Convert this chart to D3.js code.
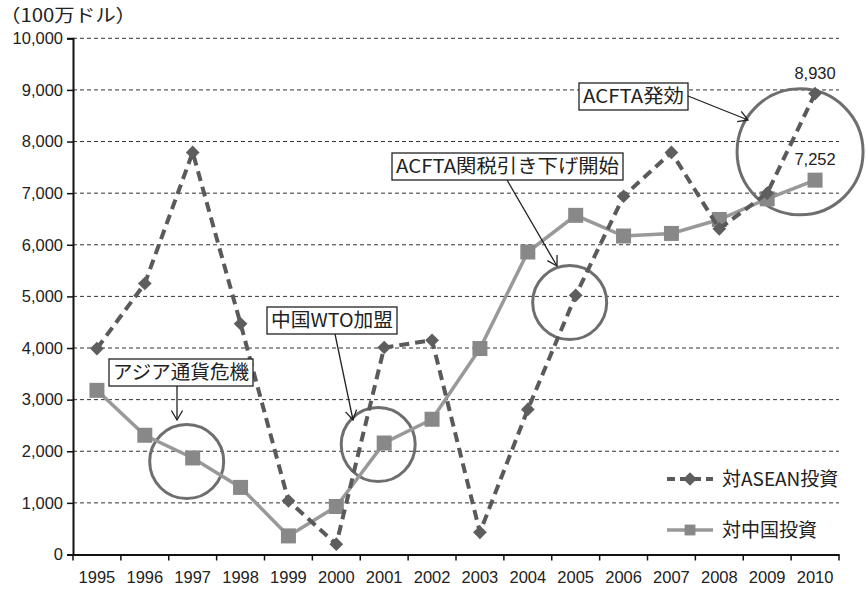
<!DOCTYPE html>
<html>
<head>
<meta charset="utf-8">
<script src="https://cdn.jsdelivr.net/npm/d3@7"></script>
<style>
  body { margin: 0; background: #fff; }
  text { font-family: "Noto Sans CJK JP", "Liberation Sans", sans-serif; fill: #222; }
</style>
</head>
<body>
<div id="chart"></div>
<script>
var years = ["1995","1996","1997","1998","1999","2000","2001","2002","2003","2004","2005","2006","2007","2008","2009","2010"];
var aseanValues = [3990, 5250, 7790, 4470, 1040, 200, 4010, 4150, 430, 2810, 5020, 6940, 7790, 6310, 7000, 8930];
var chinaValues = [3180, 2310, 1870, 1300, 360, 930, 2160, 2620, 3990, 5860, 6570, 6170, 6220, 6490, 6890, 7252];
var yTicks = [0, 1000, 2000, 3000, 4000, 5000, 6000, 7000, 8000, 9000, 10000];
var seriesNames = ["対ASEAN投資", "対中国投資"];
var unitLabel = "（100万ドル）";

// annotation: text, year it points at, value at circle centre, circle radius
var notes = [
  { text: "アジア通貨危機", year: "1997", value: 1800, r: 37, box: [109, 359, 144], tip: [177, 420] },
  { text: "中国WTO加盟", year: "2001", value: 2130, r: 37, box: [267, 307, 130], tip: [353, 420] },
  { text: "ACFTA関税引き下げ開始", year: "2005", value: 4880, r: 37, box: [392, 153, 231], tip: [557, 266] },
  { text: "ACFTA発効", year: "2010", value: 7800, r: 63, box: [579, 83, 109], tip: [748, 120] }
];

var svgWidth = 866;
var svgHeight = 590;
var plotLeft = 73, plotRight = 839, plotTop = 38.3, plotBottom = 554.5;

var svg = d3.select("#chart")
  .append("svg")
  .attr("width", svgWidth)
  .attr("height", svgHeight);

var xScale = d3.scaleBand()
  .domain(years)
  .range([plotLeft, plotRight])
  .padding(0);

var yScale = d3.scaleLinear()
  .domain([0, 10000])
  .range([plotBottom, plotTop]);

var cx = d => xScale(d) + xScale.bandwidth() / 2;

// gridlines
svg.append("g")
  .selectAll("line")
  .data(yTicks.filter(d => d > 0))
  .enter()
  .append("line")
  .attr("x1", plotLeft)
  .attr("x2", plotRight)
  .attr("y1", d => yScale(d))
  .attr("y2", d => yScale(d))
  .attr("stroke", "#333")
  .attr("stroke-width", 1)
  .attr("stroke-dasharray", "4,3");

// y axis
var yAxis = d3.axisLeft(yScale)
  .tickValues(yTicks)
  .tickSize(6)
  .tickFormat(d3.format(","));

var yG = svg.append("g")
  .attr("transform", `translate(${plotLeft},0)`)
  .call(yAxis);
yG.select(".domain").attr("stroke", "#111").attr("stroke-width", 2);
yG.selectAll(".tick line").attr("stroke", "#111").attr("stroke-width", 1.5);
yG.selectAll(".tick text")
  .attr("x", -10)
  .attr("font-size", 16.5)
  .style("font-family", "'Liberation Sans', sans-serif")
  .attr("fill", "#1a1a1a");

// x axis
var xAxis = d3.axisBottom(xScale).tickSize(0);
var xG = svg.append("g")
  .attr("transform", `translate(0,${plotBottom})`)
  .call(xAxis);
xG.select(".domain").attr("stroke", "#111").attr("stroke-width", 2);
xG.selectAll(".tick text")
  .attr("y", 17)
  .attr("font-size", 16.5)
  .style("font-family", "'Liberation Sans', sans-serif")
  .attr("fill", "#1a1a1a");

// boundary ticks between categories
svg.append("g")
  .selectAll("line")
  .data(years.concat(["end"]))
  .enter()
  .append("line")
  .attr("x1", (d, i) => plotLeft + i * xScale.bandwidth())
  .attr("x2", (d, i) => plotLeft + i * xScale.bandwidth())
  .attr("y1", plotBottom)
  .attr("y2", plotBottom + 6)
  .attr("stroke", "#111")
  .attr("stroke-width", 1.5);

// annotation circles
svg.append("g")
  .selectAll("circle")
  .data(notes)
  .enter()
  .append("circle")
  .attr("cx", d => cx(d.year) - (d.year === "2010" ? 15 : 6))
  .attr("cy", d => yScale(d.value))
  .attr("r", d => d.r)
  .attr("fill", "none")
  .attr("stroke", "#6e6e6e")
  .attr("stroke-width", 3);

// china line
var valueLine = d3.line()
  .x((d, i) => cx(years[i]))
  .y(d => yScale(d));

svg.append("path")
  .datum(chinaValues)
  .attr("d", valueLine)
  .attr("fill", "none")
  .attr("stroke", "#999")
  .attr("stroke-width", 3.5);

svg.append("g")
  .selectAll("rect")
  .data(chinaValues)
  .enter()
  .append("rect")
  .attr("x", (d, i) => cx(years[i]) - 7.5)
  .attr("y", d => yScale(d) - 7.5)
  .attr("width", 15)
  .attr("height", 15)
  .attr("fill", "#888");

// asean line
svg.append("path")
  .datum(aseanValues)
  .attr("d", valueLine)
  .attr("fill", "none")
  .attr("stroke", "#5a5a5a")
  .attr("stroke-width", 4)
  .attr("stroke-dasharray", "10,6");

var diamond = d3.symbol().type(d3.symbolDiamond2).size(120);
svg.append("g")
  .selectAll("path")
  .data(aseanValues)
  .enter()
  .append("path")
  .attr("d", diamond)
  .attr("transform", (d, i) => `translate(${cx(years[i])},${yScale(d)})`)
  .attr("fill", "#5e5e5e");

// value labels for last year
svg.append("text")
  .attr("x", cx("2010"))
  .attr("y", yScale(aseanValues[15]) - 15)
  .attr("text-anchor", "middle")
  .attr("font-size", 16.5)
  .style("font-family", "'Liberation Sans', sans-serif")
  .text(d3.format(",")(aseanValues[15]));

svg.append("text")
  .attr("x", cx("2010"))
  .attr("y", yScale(chinaValues[15]) - 15)
  .attr("text-anchor", "middle")
  .attr("font-size", 16.5)
  .style("font-family", "'Liberation Sans', sans-serif")
  .text(d3.format(",")(chinaValues[15]));

// annotation boxes and arrows
var noteG = svg.append("g").selectAll("g").data(notes).enter().append("g");

noteG.append("rect")
  .attr("x", d => d.box[0])
  .attr("y", d => d.box[1])
  .attr("width", d => d.box[2])
  .attr("height", 27)
  .attr("fill", "#fff")
  .attr("stroke", "#222")
  .attr("stroke-width", 1.3);

noteG.append("text")
  .attr("x", d => d.box[0] + d.box[2] / 2)
  .attr("y", d => d.box[1] + 20)
  .attr("text-anchor", "middle")
  .attr("font-size", 19)
  .attr("textLength", d => d.box[2] - 8)
  .attr("lengthAdjust", "spacingAndGlyphs")
  .text(d => d.text);

function arrowStart(d) {
  if (d.year === "2010") return [d.box[0] + d.box[2], d.box[1] + 13];
  if (d.year === "1997") return [d.tip[0], d.box[1] + 27];
  if (d.year === "2001") return [d.box[0] + 68, d.box[1] + 27];
  return [d.box[0] + 115, d.box[1] + 27];
}

noteG.each(function(d) {
  var s = arrowStart(d), t = d.tip;
  var g = d3.select(this);
  g.append("line")
    .attr("x1", s[0]).attr("y1", s[1])
    .attr("x2", t[0]).attr("y2", t[1])
    .attr("stroke", "#222")
    .attr("stroke-width", 1.3);
  var ang = Math.atan2(t[1] - s[1], t[0] - s[0]);
  var head = [ang + Math.PI * 0.83, ang - Math.PI * 0.83].map(a => [t[0] + 11 * Math.cos(a), t[1] + 11 * Math.sin(a)]);
  g.append("path")
    .attr("d", `M${head[0][0]},${head[0][1]}L${t[0]},${t[1]}L${head[1][0]},${head[1][1]}`)
    .attr("fill", "none")
    .attr("stroke", "#222")
    .attr("stroke-width", 1.3);
});

// unit label
svg.append("text")
  .attr("x", 0)
  .attr("y", 22)
  .attr("font-size", 18)
  .attr("textLength", 136)
  .attr("lengthAdjust", "spacingAndGlyphs")
  .text(unitLabel);

// legend
var legend = svg.append("g").selectAll("g")
  .data(seriesNames)
  .enter()
  .append("g")
  .attr("transform", (d, i) => `translate(667,${479 + i * 51})`);

legend.append("line")
  .attr("x1", 0).attr("x2", 46)
  .attr("stroke", (d, i) => i === 0 ? "#5a5a5a" : "#999")
  .attr("stroke-width", (d, i) => i === 0 ? 4 : 3.5)
  .attr("stroke-dasharray", (d, i) => i === 0 ? "8,5" : null);

legend.append("path")
  .attr("d", (d, i) => i === 0 ? diamond() : d3.symbol().type(d3.symbolSquare2).size(150)())
  .attr("transform", "translate(23,0)")
  .attr("fill", (d, i) => i === 0 ? "#5e5e5e" : "#888");

legend.append("text")
  .attr("x", 55)
  .attr("y", 7)
  .attr("font-size", 19)
  .text(d => d);
</script>
</body>
</html>
